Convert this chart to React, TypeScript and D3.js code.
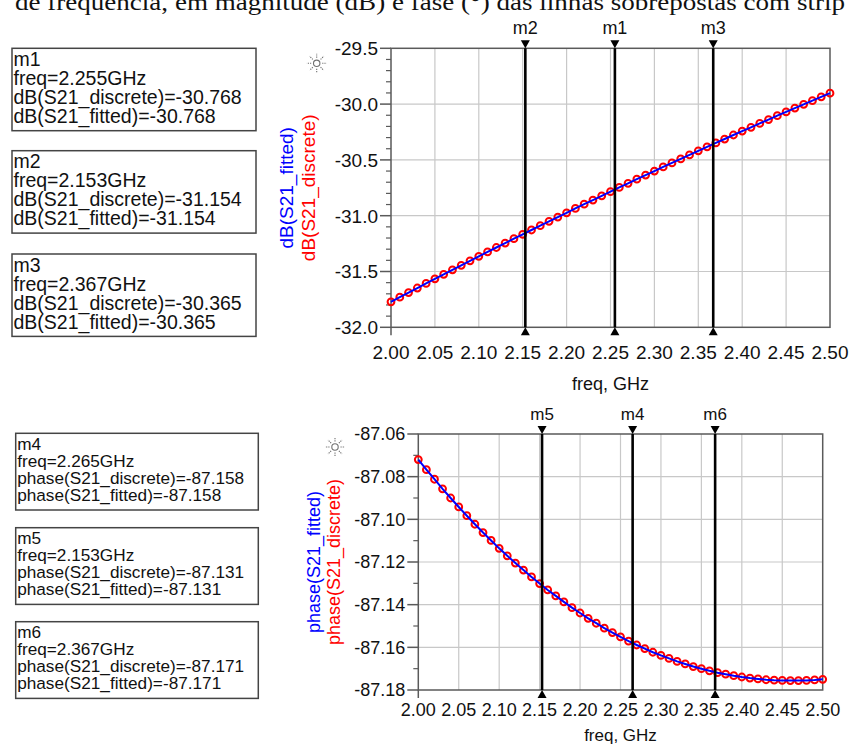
import React from "react";
import * as d3 from "d3";

// frequency sweep, GHz (0.01 step)
const freqGHz = [
  2.0, 2.01, 2.02, 2.03, 2.04, 2.05, 2.06, 2.07, 2.08, 2.09,
  2.1, 2.11, 2.12, 2.13, 2.14, 2.15, 2.16, 2.17, 2.18, 2.19,
  2.2, 2.21, 2.22, 2.23, 2.24, 2.25, 2.26, 2.27, 2.28, 2.29,
  2.3, 2.31, 2.32, 2.33, 2.34, 2.35, 2.36, 2.37, 2.38, 2.39,
  2.4, 2.41, 2.42, 2.43, 2.44, 2.45, 2.46, 2.47, 2.48, 2.49, 2.5,
];

// dB(S21_discrete)
const dbDiscrete = [
  -31.772, -31.73, -31.689, -31.648, -31.607, -31.566, -31.525, -31.485, -31.445, -31.404,
  -31.364, -31.325, -31.285, -31.245, -31.206, -31.167, -31.128, -31.089, -31.05, -31.012,
  -30.974, -30.935, -30.897, -30.86, -30.822, -30.785, -30.747, -30.71, -30.673, -30.636,
  -30.6, -30.563, -30.527, -30.491, -30.455, -30.419, -30.383, -30.348, -30.313, -30.277,
  -30.242, -30.208, -30.173, -30.139, -30.104, -30.07, -30.036, -30.002, -29.969, -29.935, -29.902,
];
// the fitted curve lies on top of the discrete points
const dbFitted = dbDiscrete;

// phase(S21_discrete), degrees
const phaseDiscrete = [
  -87.072, -87.0767, -87.0812, -87.0857, -87.09, -87.0942, -87.0983, -87.1023, -87.1062, -87.1099,
  -87.1136, -87.1171, -87.1205, -87.1238, -87.127, -87.1301, -87.1331, -87.1359, -87.1387, -87.1414,
  -87.1439, -87.1464, -87.1487, -87.151, -87.1531, -87.1551, -87.1571, -87.1589, -87.1606, -87.1623,
  -87.1638, -87.1652, -87.1666, -87.1678, -87.169, -87.17, -87.171, -87.1719, -87.1726, -87.1733,
  -87.1739, -87.1744, -87.1748, -87.1752, -87.1754, -87.1755, -87.1756, -87.1756, -87.1755, -87.1753, -87.175,
];
const phaseFitted = phaseDiscrete;

const xTicks = [2.0, 2.05, 2.1, 2.15, 2.2, 2.25, 2.3, 2.35, 2.4, 2.45, 2.5];
const dbTicks = [-29.5, -30.0, -30.5, -31.0, -31.5, -32.0];
const phaseTicks = [-87.06, -87.08, -87.1, -87.12, -87.14, -87.16, -87.18];

// markers
const dbMarkerNames = ["m1", "m2", "m3"];
const dbMarkerFreq = [2.255, 2.153, 2.367];
const dbMarkerDiscrete = [-30.768, -31.154, -30.365];
const dbMarkerFitted = [-30.768, -31.154, -30.365];

const phaseMarkerNames = ["m4", "m5", "m6"];
const phaseMarkerFreq = [2.265, 2.153, 2.367];
const phaseMarkerDiscrete = [-87.158, -87.131, -87.171];
const phaseMarkerFitted = [-87.158, -87.131, -87.171];

const FONT = "'Liberation Sans', Arial, sans-serif";
const GRID = "#c8c8c8";
const FRAME = "#5a5a5a";

function Sun({ x, y }: { x: number; y: number }) {
  const rays = d3.range(8).map((k) => (k * Math.PI) / 4);
  return (
    <g stroke="#707070" fill="none" strokeWidth={1.1}>
      <circle cx={x} cy={y} r={3.2} />
      {rays.map((a, i) => (
        <line
          key={i}
          x1={x + 5.5 * Math.cos(a)}
          y1={y + 5.5 * Math.sin(a)}
          x2={x + 10 * Math.cos(a)}
          y2={y + 10 * Math.sin(a)}
          strokeDasharray="1.2 1"
        />
      ))}
    </g>
  );
}

type Frame = { l: number; r: number; t: number; b: number };

function Panel(props: {
  frame: Frame;
  yDomain: [number, number];
  yTicks: number[];
  yMinor: number[];
  fmtY: (v: number) => string;
  discrete: number[];
  fitted: number[];
  markerNames: string[];
  markerFreq: number[];
  labelFitted: string;
  labelDiscrete: string;
  labelXBlue: number;
  labelXRed: number;
  tickFont: number;
  xLabelDy: number;
  titleY: number;
  sun: [number, number];
}) {
  const { frame: f } = props;
  const x = d3.scaleLinear().domain([2.0, 2.5]).range([f.l, f.r]);
  const y = d3.scaleLinear().domain(props.yDomain).range([f.b, f.t]);
  const line = d3
    .line<number>()
    .x((_, i) => x(freqGHz[i]))
    .y((d) => y(d));
  const cy = (f.t + f.b) / 2;

  return (
    <g fontFamily={FONT}>
      {/* grid */}
      {xTicks.slice(1, -1).map((t) => (
        <line key={"gx" + t} x1={x(t)} x2={x(t)} y1={f.t} y2={f.b} stroke={GRID} strokeWidth={1.2} />
      ))}
      {props.yTicks.slice(1, -1).map((t) => (
        <line key={"gy" + t} x1={f.l} x2={f.r} y1={y(t)} y2={y(t)} stroke={GRID} strokeWidth={1.2} />
      ))}
      <rect x={f.l} y={f.t} width={f.r - f.l} height={f.b - f.t} fill="none" stroke={FRAME} strokeWidth={1.5} />

      {/* y ticks */}
      {props.yMinor.map((t, i) => (
        <line key={"ym" + i} x1={f.l - 5} x2={f.l} y1={y(t)} y2={y(t)} stroke={FRAME} strokeWidth={1.2} />
      ))}
      {props.yTicks.map((t) => (
        <g key={"yt" + t}>
          <line x1={f.l - 11} x2={f.l} y1={y(t)} y2={y(t)} stroke={FRAME} strokeWidth={1.5} />
          <text x={f.l - 13} y={y(t)} dy="0.36em" textAnchor="end" fontSize={props.tickFont} fill="#111">
            {props.fmtY(t)}
          </text>
        </g>
      ))}
      <line x1={f.l} x2={f.l} y1={f.b} y2={f.b + 8} stroke={FRAME} strokeWidth={1.5} />

      {/* x tick labels */}
      {xTicks.map((t) => (
        <text key={"xt" + t} x={x(t)} y={f.b + props.xLabelDy} textAnchor="middle" fontSize={props.tickFont} fill="#111">
          {t.toFixed(2)}
        </text>
      ))}
      <text x={(f.l + f.r) / 2} y={props.titleY} textAnchor="middle" fontSize={props.tickFont - 1} fill="#111">
        freq, GHz
      </text>

      {/* data */}
      {props.discrete.map((d, i) => (
        <circle key={"c" + i} cx={x(freqGHz[i])} cy={y(d)} r={3.4} fill="none" stroke="#ff0000" strokeWidth={2} />
      ))}
      <path d={line(props.fitted) || ""} fill="none" stroke="#0000ff" strokeWidth={2} />

      {/* markers */}
      {props.markerNames.map((m, i) => {
        const mx = x(props.markerFreq[i]);
        return (
          <g key={m}>
            <line x1={mx} x2={mx} y1={f.t} y2={f.b} stroke="#000" strokeWidth={2.6} />
            <path d={`M${mx - 4.5},${f.t - 8}L${mx + 4.5},${f.t - 8}L${mx},${f.t}Z`} fill="#000" />
            <path d={`M${mx - 4.5},${f.b + 8}L${mx + 4.5},${f.b + 8}L${mx},${f.b}Z`} fill="#000" />
            <text x={mx} y={f.t - 14} textAnchor="middle" fontSize={props.tickFont - 1} fill="#111">
              {m}
            </text>
          </g>
        );
      })}

      {/* y axis labels */}
      <text
        transform={`translate(${props.labelXBlue},${cy}) rotate(-90)`}
        textAnchor="middle"
        fontSize={props.tickFont}
        fill="#0000ff"
      >
        {props.labelFitted}
      </text>
      <text
        transform={`translate(${props.labelXRed},${cy}) rotate(-90)`}
        textAnchor="middle"
        fontSize={props.tickFont}
        fill="#ff0000"
      >
        {props.labelDiscrete}
      </text>

      <Sun x={props.sun[0]} y={props.sun[1]} />
    </g>
  );
}

function MarkerBox(props: {
  x: number;
  y: number;
  w: number;
  h: number;
  lines: string[];
  fontSize: number;
  first: number;
  step: number;
}) {
  return (
    <g fontFamily={FONT}>
      <rect x={props.x} y={props.y} width={props.w} height={props.h} fill="#fff" stroke="#444" strokeWidth={1.5} />
      {props.lines.map((s, i) => (
        <text key={i} x={props.x + 1.5} y={props.y + props.first + i * props.step} fontSize={props.fontSize} fill="#111">
          {s}
        </text>
      ))}
    </g>
  );
}

export default function App() {
  const topFrame = { l: 391, r: 830, t: 48.3, b: 327.3 };
  const botFrame = { l: 418.3, r: 822.7, t: 434, b: 690 };
  const dbMinor = d3.range(-29.6, -32.0, -0.1).filter((v) => Math.abs(v * 2 - Math.round(v * 2)) > 0.01);
  const phaseMinor = d3.range(-87.07, -87.18, -0.02);

  const topBoxTops = [48.3, 150.7, 254];
  const botBoxTops = [433.3, 527.7, 621.7];

  return (
    <div style={{ position: "absolute", left: 0, top: 0 }}>
      <svg width={850} height={751} style={{ display: "block", background: "#fff" }}>
        <text
          x={430}
          y={10}
          textAnchor="middle"
          fontFamily="'Liberation Serif', 'Times New Roman', serif"
          fontSize={23}
          fill="#111"
          textLength={830}
          lengthAdjust="spacingAndGlyphs"
        >
          de frequência, em magnitude (dB) e fase (°) das linhas sobrepostas com strip
        </text>

        {dbMarkerNames.map((m, i) => (
          <MarkerBox
            key={m}
            x={12}
            y={topBoxTops[i]}
            w={244}
            h={82.4}
            fontSize={19.5}
            first={17.7}
            step={19}
            lines={[
              m,
              `freq=${dbMarkerFreq[i].toFixed(3)}GHz`,
              `dB(S21_discrete)=${dbMarkerDiscrete[i].toFixed(3)}`,
              `dB(S21_fitted)=${dbMarkerFitted[i].toFixed(3)}`,
            ]}
          />
        ))}
        {phaseMarkerNames.map((m, i) => (
          <MarkerBox
            key={m}
            x={15.7}
            y={botBoxTops[i]}
            w={242.6}
            h={76.7}
            fontSize={17.2}
            first={16.6}
            step={16.9}
            lines={[
              m,
              `freq=${phaseMarkerFreq[i].toFixed(3)}GHz`,
              `phase(S21_discrete)=${phaseMarkerDiscrete[i].toFixed(3)}`,
              `phase(S21_fitted)=${phaseMarkerFitted[i].toFixed(3)}`,
            ]}
          />
        ))}

        <Panel
          frame={topFrame}
          yDomain={[-32.0, -29.5]}
          yTicks={dbTicks}
          yMinor={dbMinor}
          fmtY={(v) => v.toFixed(1)}
          discrete={dbDiscrete}
          fitted={dbFitted}
          markerNames={dbMarkerNames}
          markerFreq={dbMarkerFreq}
          labelFitted="dB(S21_fitted)"
          labelDiscrete="dB(S21_discrete)"
          labelXBlue={293}
          labelXRed={315}
          tickFont={19}
          xLabelDy={31.5}
          titleY={390}
          sun={[316.7, 63.3]}
        />
        <Panel
          frame={botFrame}
          yDomain={[-87.18, -87.06]}
          yTicks={phaseTicks}
          yMinor={phaseMinor}
          fmtY={(v) => v.toFixed(2)}
          discrete={phaseDiscrete}
          fitted={phaseFitted}
          markerNames={phaseMarkerNames}
          markerFreq={phaseMarkerFreq}
          labelFitted="phase(S21_fitted)"
          labelDiscrete="phase(S21_discrete)"
          labelXBlue={320}
          labelXRed={340}
          tickFont={18}
          xLabelDy={26}
          titleY={741}
          sun={[335, 447]}
        />
      </svg>
    </div>
  );
}
